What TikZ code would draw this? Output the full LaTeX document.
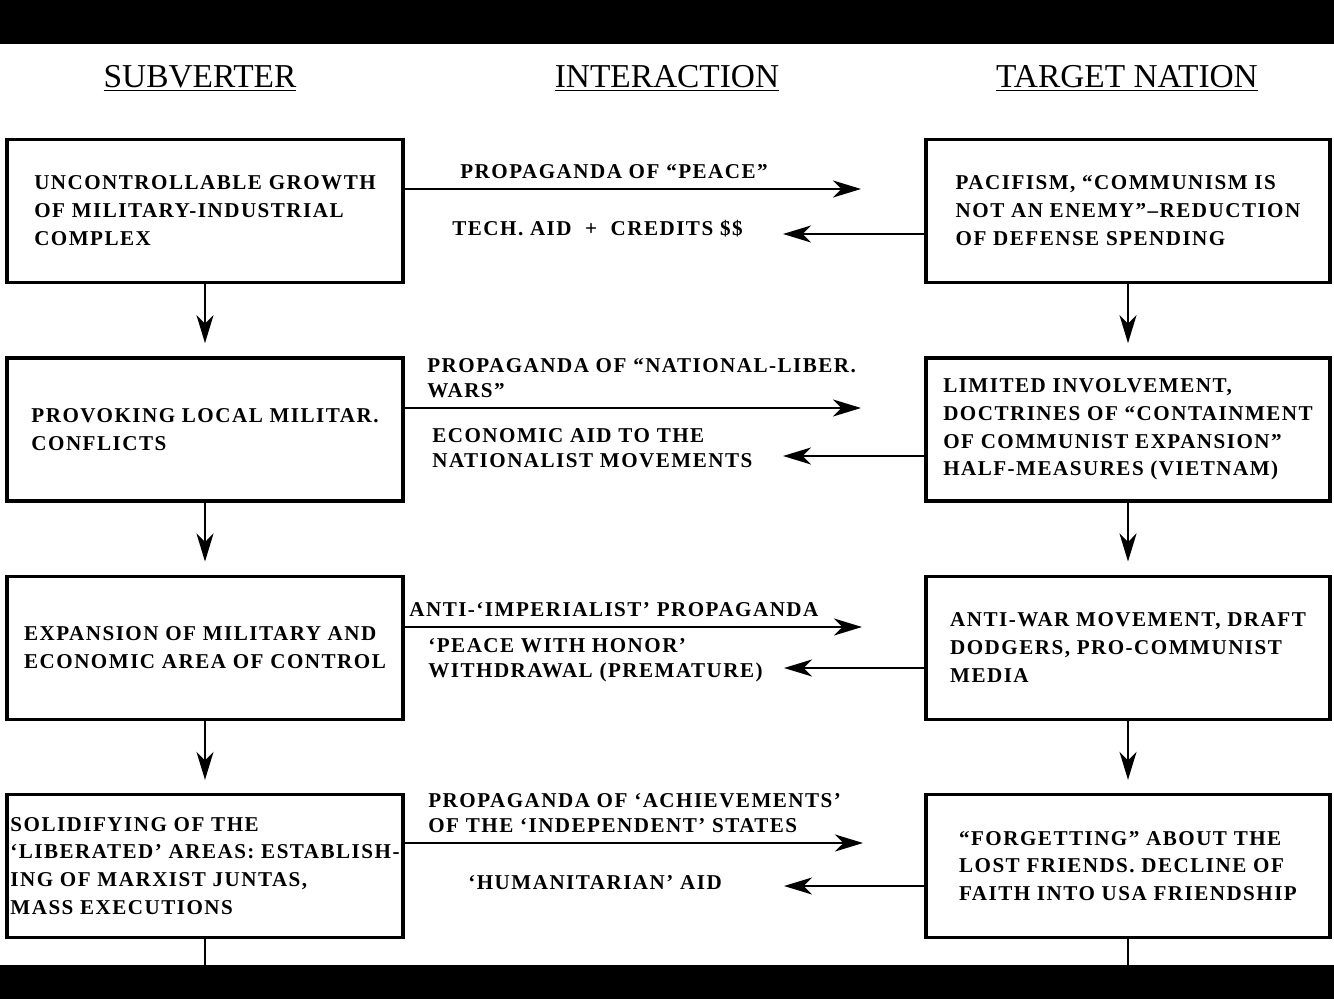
\documentclass[tikz,border=0pt]{standalone}
\usepackage{fontspec}
\setmainfont{Liberation Serif}
\newfontfamily\chartfont{Liberation Serif}[LetterSpace=7]
\usetikzlibrary{arrows.meta,positioning}
\tikzset{
  panel/.style={draw, line width=1.9pt, minimum width=79.2mm, minimum height=28.6mm,
    inner sep=0pt, align=left, font=\chartfont\bfseries\fontsize{12}{15.9}\selectfont},
  widepanel/.style={panel, minimum width=80.8mm},
  head/.style={font=\fontsize{19}{22}\selectfont, inner sep=0pt},
  lab/.style={anchor=west, inner sep=0pt, align=left,
    font=\chartfont\bfseries\fontsize{12}{14.2}\selectfont},
  flow/.style={line width=1.2pt, -{Stealth[length=5.6mm, width=3.4mm, inset=1.7mm]}},
  down/.style={flow, shorten >=2.6mm},
}

\begin{document}
\begin{tikzpicture}[x=0.2mm,y=-0.2mm]
\useasboundingbox (0,0) rectangle (1334,999);
\fill (0,0) rectangle (1334,44);
\fill (0,965) rectangle (1334,999);

% column heads
\node[head] (hsub) at (200,78) {\underline{SUBVERTER}};
\node[head] (hint) at (667,78) {\underline{INTERACTION}};
\node[head] (htar) at (1127,78) {\underline{TARGET NATION}};

% subverter side
\node[panel] (s1) at (205,211) {UNCONTROLLABLE GROWTH\\OF MILITARY-INDUSTRIAL\\COMPLEX};
\node[panel, below=14.4mm of s1] (s2) {PROVOKING LOCAL MILITAR.\\CONFLICTS};
\node[panel, below=14.4mm of s2] (s3) {EXPANSION OF MILITARY AND\\ECONOMIC AREA OF CONTROL};
\node[panel, below=14.4mm of s3] (s4) {SOLIDIFYING OF THE\\‘LIBERATED’ AREAS: ESTABLISH-\\ING OF MARXIST JUNTAS,\\MASS EXECUTIONS};

% target side
\node[widepanel] (t1) at (1128,211) {PACIFISM, “COMMUNISM IS\\NOT AN ENEMY”–REDUCTION\\OF DEFENSE SPENDING};
\node[widepanel, below=14.4mm of t1] (t2) {LIMITED INVOLVEMENT,\\DOCTRINES OF “CONTAINMENT\\OF COMMUNIST EXPANSION”\\HALF-MEASURES (VIETNAM)};
\node[widepanel, below=14.4mm of t2] (t3) {ANTI-WAR MOVEMENT, DRAFT\\DODGERS, PRO-COMMUNIST\\MEDIA};
\node[widepanel, below=14.4mm of t3] (t4) {“FORGETTING” ABOUT THE\\LOST FRIENDS. DECLINE OF\\FAITH INTO USA FRIENDSHIP};

\draw[down] (s1) -- (s2);
\draw[down] (s2) -- (s3);
\draw[down] (s3) -- (s4);
\draw[down] (t1) -- (t2);
\draw[down] (t2) -- (t3);
\draw[down] (t3) -- (t4);

\coordinate (sEnd) at (205,965);
\coordinate (tEnd) at (1128,965);
\draw[line width=1.2pt] (s4) -- (sEnd);
\draw[line width=1.2pt] (t4) -- (tEnd);

% interaction
\coordinate (p1) at (861,189);
\coordinate (q1) at (783,234);
\coordinate (p2) at (861,408);
\coordinate (q2) at (783,456);
\coordinate (p3) at (862,627);
\coordinate (q3) at (784,668);
\coordinate (p4) at (863,843);
\coordinate (q4) at (784,886);

\draw[flow] (s1.east |- p1) -- (p1);
\draw[flow] (t1.west |- q1) -- (q1);
\draw[flow] (s2.east |- p2) -- (p2);
\draw[flow] (t2.west |- q2) -- (q2);
\draw[flow] (s3.east |- p3) -- (p3);
\draw[flow] (t3.west |- q3) -- (q3);
\draw[flow] (s4.east |- p4) -- (p4);
\draw[flow] (t4.west |- q4) -- (q4);

\node[lab] (a1) at (460,172) {PROPAGANDA OF “PEACE”};
\node[lab] (b1) at (452,229) {TECH. AID \ + \ CREDITS \$\$};
\node[lab] (a2) at (427,378) {PROPAGANDA OF “NATIONAL-LIBER.\\WARS”};
\node[lab] (b2) at (432,448) {ECONOMIC AID TO THE\\NATIONALIST MOVEMENTS};
\node[lab] (a3) at (409,610) {ANTI-‘IMPERIALIST’ PROPAGANDA};
\node[lab] (b3) at (428,660) {‘PEACE WITH HONOR’\\WITHDRAWAL (PREMATURE)};
\node[lab] (a4) at (428,813) {PROPAGANDA OF ‘ACHIEVEMENTS’\\OF THE ‘INDEPENDENT’ STATES};
\node[lab] (b4) at (468,883) {‘HUMANITARIAN’ AID};

\end{tikzpicture}
\end{document}
